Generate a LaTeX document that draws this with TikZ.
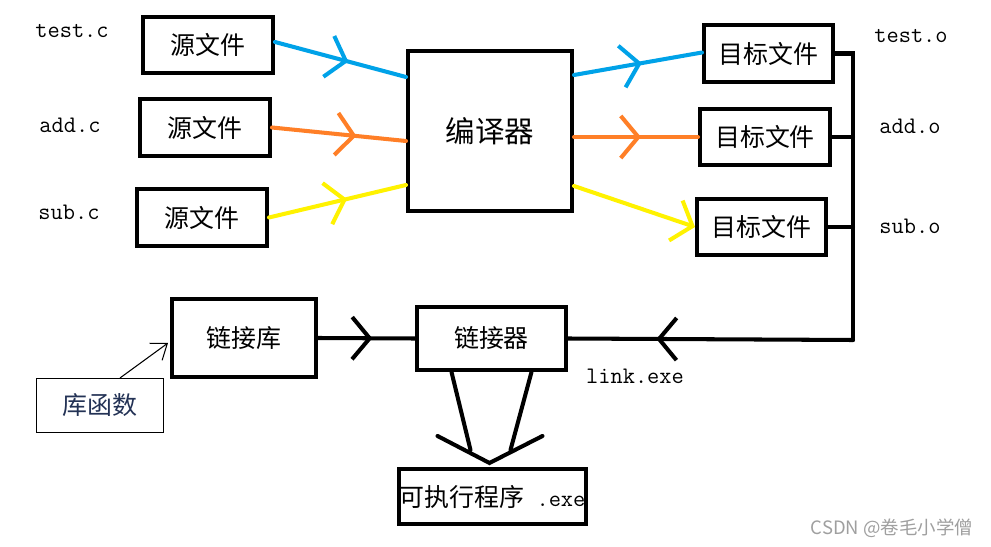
\documentclass[tikz,border=0pt]{standalone}
\usepackage{fontspec}
\newfontfamily\cjk{Noto Sans CJK SC}
\usetikzlibrary{arrows.meta,calc,decorations.markings}

\definecolor{srcblue}{RGB}{0,162,232}
\definecolor{srcorange}{RGB}{255,127,39}
\definecolor{srcyellow}{RGB}{255,242,0}
\definecolor{notecolor}{RGB}{35,50,85}

\tikzset{
  chevron/.tip={Straight Barb[length=10pt,width=24pt]},
  box/.style={draw,line width=2.3pt,inner sep=0pt,font=\cjk\fontsize{14.2}{17}\selectfont},
  wire/.style={line width=2.3pt,line cap=round},
  mid arrow/.style={postaction={decorate},
    decoration={markings,mark=at position #1 with {\arrow{chevron}}}},
  lbl/.style={font=\ttfamily\fontsize{13.5}{16}\selectfont}
}

\begin{document}
\begin{tikzpicture}[x=0.02cm,y=-0.02cm]
\useasboundingbox (0,0) rectangle (991,547);

% source files
\node[box,minimum width=2.6cm,minimum height=1.12cm] (src1) at (208,45) {源文件};
\node[box,minimum width=2.6cm,minimum height=1.14cm] (src2) at (205,127.5) {源文件};
\node[box,minimum width=2.6cm,minimum height=1.14cm] (src3) at (202,217.5) {源文件};
\node[lbl] (testc) at (72,31) {test.c};
\node[lbl] (addc) at (70,125) {add.c};
\node[lbl] (subc) at (69,212) {sub.c};

% compiler
\node[box,minimum width=3.28cm,minimum height=3.2cm,font=\cjk\fontsize{16.8}{20}\selectfont] (comp) at (490,131) {编译器};

% object files
\node[box,minimum width=2.58cm,minimum height=1.14cm] (tgt1) at (768.5,53.5) {目标文件};
\node[box,minimum width=2.6cm,minimum height=1.12cm] (tgt2) at (765,137) {目标文件};
\node[box,minimum width=2.58cm,minimum height=1.12cm] (tgt3) at (761.5,227) {目标文件};
\node[lbl] (testo) at (911,36) {test.o};
\node[lbl] (addo) at (910,126) {add.o};
\node[lbl] (subo) at (910,226) {sub.o};

% linking
\node[box,minimum width=2.88cm,minimum height=1.56cm] (lib) at (244,338) {链接库};
\node[box,minimum width=2.98cm,minimum height=1.26cm] (linker) at (491.5,338.5) {链接器};
\node[box,minimum width=3.74cm,minimum height=1.1cm] (exe) at (492.5,496.5)
  {可执行程序{\ttfamily\fontsize{13.5}{16}\selectfont\ .exe}};
\node[lbl] (linkexe) at (635,376) {link.exe};
\node[draw,line width=0.6pt,minimum width=2.54cm,minimum height=1.08cm,
  text=notecolor,font=\cjk\fontsize{14.2}{17}\selectfont] (libfn) at (100,405.5) {库函数};

% compile step
\draw[wire,srcblue,mid arrow=0.56] ($(src1.east)+(0,-3)$) -- ($(comp.west)+(0,-54)$);
\draw[wire,srcorange,mid arrow=0.63] (src2.east) -- ($(comp.west)+(0,10)$);
\draw[wire,srcyellow,mid arrow=0.57] (src3.east) -- ($(comp.west)+(0,54)$);

\draw[wire,srcblue,mid arrow=0.53] ($(comp.east)+(0,-56)$) -- ($(tgt1.west)+(0,-1)$);
\draw[wire,srcorange,mid arrow=0.54] ($(comp.east)+(0,6)$) -- (tgt2.west);
\draw[wire,srcyellow,-{chevron}] ($(comp.east)+(0,55)$) -- (tgt3.west);

% bus back to the linker
\coordinate (corner) at (853,340);
\draw[wire] (tgt1.east) -| (corner);
\draw[wire] (tgt2.east) -- (tgt2.east -| corner);
\draw[wire] (tgt3.east) -- (tgt3.east -| corner);
\draw[wire,mid arrow=0.69] (corner) -- (linker.east);

\draw[wire,mid arrow=0.56] (lib.east) -- (linker.west);

% linker output
\coordinate (tip) at ($(exe.north)+(-3,-4)$);
\draw[wire] ($(linker.south)+(-40,0)$) -- ($(exe.north)+(-22,-17)$);
\draw[wire] ($(linker.south)+(40,0)$) -- ($(exe.north)+(18,-17)$);
\draw[wire] ($(exe.north)+(-55,-31)$) -- (tip) -- ($(exe.north)+(50,-31)$);

\draw[line width=0.6pt,-{Straight Barb[length=8pt,width=12pt]}]
  ($(libfn.north)+(20,0)$) -- ($(lib.west)+(-2,5)$);

\node[text=gray!75,font=\cjk\fontsize{10.5}{12}\selectfont] (sig) at (892,528) {CSDN @卷毛小学僧};
\end{tikzpicture}
\end{document}
